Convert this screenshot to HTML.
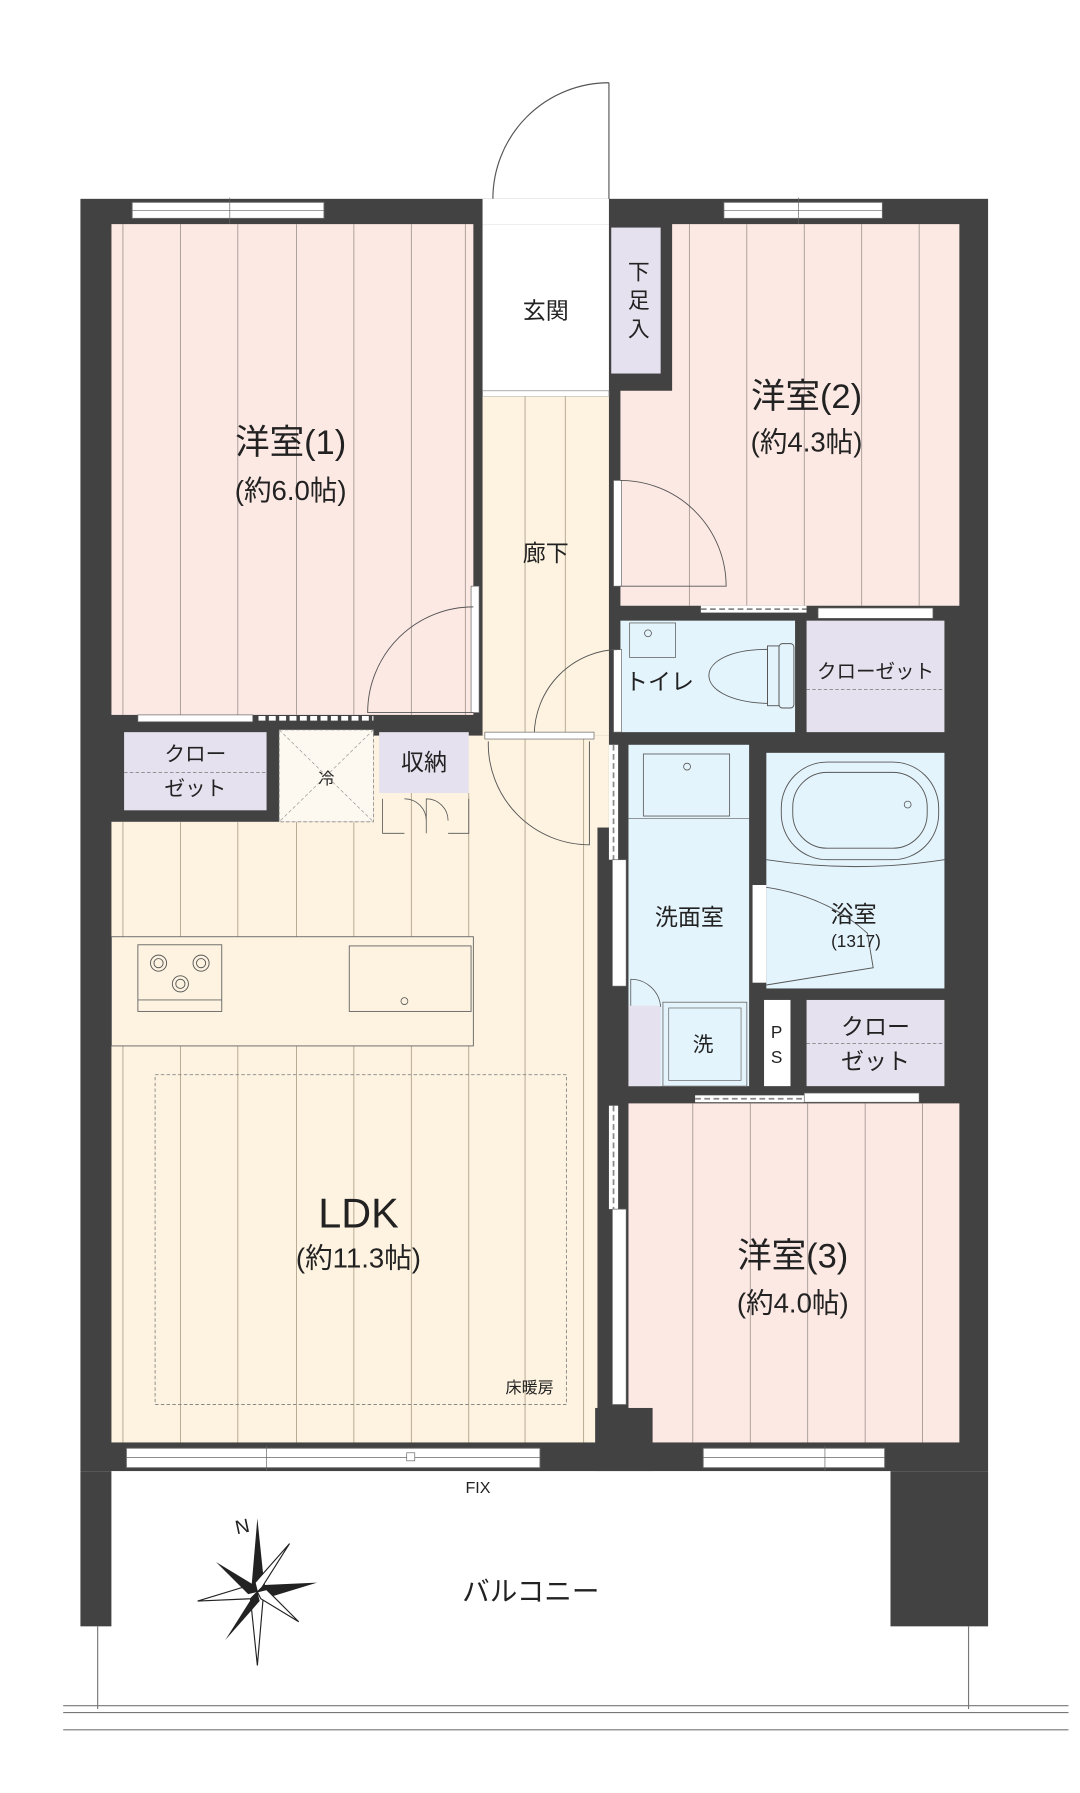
<!DOCTYPE html>
<html><head><meta charset="utf-8"><style>
html,body{margin:0;padding:0;background:#fff;width:1080px;height:1793px;overflow:hidden}
svg{display:block}
text{font-family:"Liberation Sans","Noto Sans CJK JP",sans-serif;fill:#222}
</style></head><body>
<svg width="1080" height="1793" viewBox="0 0 940 1560" preserveAspectRatio="none" xmlns="http://www.w3.org/2000/svg">
<rect width="940" height="1560" fill="#fff"/>
<!-- entry door -->
<line x1="530" y1="72" x2="530" y2="175" stroke="#555" stroke-width="1"/>
<path d="M530,72 A101,101 0 0 0 429,173" fill="none" stroke="#555" stroke-width="1"/>
<!-- walls -->
<rect x="70" y="173" width="790" height="1107" fill="#424242"/>
<rect x="70" y="1280" width="27" height="135" fill="#424242"/>
<rect x="775" y="1280" width="85" height="135" fill="#424242"/>
<rect x="420" y="173" width="110" height="22" fill="#fff"/>
<!-- windows top -->
<rect x="115" y="176" width="167" height="14" fill="#fff" stroke="#666" stroke-width="0.8"/>
<line x1="115" y1="183" x2="282" y2="183" stroke="#666" stroke-width="0.6"/>
<line x1="200" y1="172" x2="200" y2="195" stroke="#666" stroke-width="0.6"/>
<rect x="630" y="176" width="138" height="14" fill="#fff" stroke="#666" stroke-width="0.8"/>
<line x1="630" y1="183" x2="768" y2="183" stroke="#666" stroke-width="0.6"/>
<line x1="695" y1="172" x2="695" y2="195" stroke="#666" stroke-width="0.6"/>
<!-- Room1 -->
<rect x="97" y="195" width="315" height="427" fill="#fde9e4"/>
<g stroke="#9a8f8c" stroke-width="0.7">
<line x1="107" y1="195" x2="107" y2="622"/><line x1="157" y1="195" x2="157" y2="622"/><line x1="207" y1="195" x2="207" y2="622"/><line x1="258" y1="195" x2="258" y2="622"/><line x1="308" y1="195" x2="308" y2="622"/><line x1="358" y1="195" x2="358" y2="622"/><line x1="405" y1="195" x2="405" y2="622"/>
</g>
<!-- genkan -->
<rect x="420" y="195" width="110" height="145" fill="#fff"/>
<rect x="420" y="340" width="110" height="5" fill="#fff" stroke="#888" stroke-width="0.6"/>
<rect x="532" y="198" width="43" height="127" fill="#e6e1ee"/>
<!-- Room2 -->
<path d="M585,195 H835 V527 H540 V340 H585 Z" fill="#fde9e4"/>
<g stroke="#9a8f8c" stroke-width="0.7">
<line x1="600" y1="195" x2="600" y2="527"/><line x1="650" y1="195" x2="650" y2="527"/><line x1="700" y1="195" x2="700" y2="527"/><line x1="750" y1="195" x2="750" y2="527"/><line x1="800" y1="195" x2="800" y2="527"/>
</g>
<!-- corridor -->
<rect x="420" y="345" width="110" height="295" fill="#fdf3e0"/>
<g stroke="#a89a80" stroke-width="0.7"><line x1="457" y1="345" x2="457" y2="1255"/><line x1="492" y1="345" x2="492" y2="640"/></g>
<!-- LDK -->
<rect x="97" y="715" width="423" height="540" fill="#fdf3e0"/>
<rect x="325" y="640" width="205" height="80" fill="#fdf3e0"/>
<g stroke="#a89a80" stroke-width="0.7">
<line x1="107" y1="715" x2="107" y2="1255"/><line x1="157" y1="715" x2="157" y2="1255"/><line x1="207" y1="715" x2="207" y2="1255"/><line x1="258" y1="715" x2="258" y2="1255"/><line x1="308" y1="715" x2="308" y2="1255"/><line x1="358" y1="690" x2="358" y2="1255"/><line x1="408" y1="690" x2="408" y2="1255"/><line x1="457" y1="640" x2="457" y2="1255"/><line x1="508" y1="640" x2="508" y2="1255"/>
</g>
<!-- closets left -->
<rect x="108" y="637" width="124" height="68" fill="#e6e1ee"/>
<line x1="108" y1="672" x2="232" y2="672" stroke="#777" stroke-width="0.7" stroke-dasharray="3,2"/>
<rect x="243" y="635" width="82" height="80" fill="#fdf8f0" stroke="#888" stroke-width="0.7" stroke-dasharray="3,2"/>
<line x1="243" y1="635" x2="325" y2="715" stroke="#999" stroke-width="0.6" stroke-dasharray="3,2"/>
<line x1="325" y1="635" x2="243" y2="715" stroke="#999" stroke-width="0.6" stroke-dasharray="3,2"/>
<rect x="330" y="637" width="78" height="53" fill="#e6e1ee"/>
<rect x="120" y="622" width="100" height="6" fill="#fff" stroke="#666" stroke-width="0.6"/>
<line x1="225" y1="625" x2="325" y2="625" stroke="#fff" stroke-width="4" stroke-dasharray="6,3"/>
<!-- storage doors -->
<path d="M333,695 V725 H352 M352,695 A19,19 0 0 1 371,714 M371,695 V725 M371,695 A19,19 0 0 1 390,714 M408,695 V725 H390" fill="none" stroke="#555" stroke-width="0.7"/>
<!-- kitchen -->
<rect x="97" y="815" width="315" height="95" fill="#fdf3e0" stroke="#666" stroke-width="0.8"/>
<rect x="120" y="822" width="73" height="58" fill="#fdf3e0" stroke="#666" stroke-width="0.8"/>
<line x1="120" y1="870" x2="193" y2="870" stroke="#666" stroke-width="0.7"/>
<g fill="none" stroke="#555" stroke-width="0.8"><circle cx="138" cy="838" r="7"/><circle cx="138" cy="838" r="4"/><circle cx="175" cy="838" r="7"/><circle cx="175" cy="838" r="4"/><circle cx="157" cy="856" r="7"/><circle cx="157" cy="856" r="4"/></g>
<rect x="304" y="823" width="106" height="57" fill="#fdf3e0" stroke="#666" stroke-width="0.8"/>
<circle cx="352" cy="871" r="3" fill="none" stroke="#555" stroke-width="0.7"/>
<rect x="135" y="935" width="358" height="287" fill="none" stroke="#888" stroke-width="0.8" stroke-dasharray="3,2"/>
<!-- toilet -->
<rect x="540" y="540" width="152" height="97" fill="#e4f4fc"/>
<rect x="548" y="542" width="40" height="30" fill="#e4f4fc" stroke="#666" stroke-width="0.7"/>
<circle cx="564" cy="551" r="3" fill="none" stroke="#555" stroke-width="0.7"/>
<path d="M668,565 C600,565 600,610 668,612 Z" fill="#e4f4fc" stroke="#555" stroke-width="0.8"/>
<rect x="668" y="562" width="10" height="52" fill="none" stroke="#555" stroke-width="0.8"/>
<rect x="678" y="560" width="13" height="56" rx="3" fill="none" stroke="#555" stroke-width="0.8"/>
<rect x="702" y="540" width="120" height="97" fill="#e6e1ee"/>
<line x1="702" y1="600" x2="822" y2="600" stroke="#777" stroke-width="0.7" stroke-dasharray="3,2"/>
<rect x="610" y="527" width="92" height="6" fill="#fff"/>
<line x1="610" y1="530" x2="702" y2="530" stroke="#888" stroke-width="1.5" stroke-dasharray="5,3"/>
<rect x="712" y="529" width="100" height="9" fill="#fff" stroke="#666" stroke-width="0.6"/>
<!-- wash -->
<rect x="547" y="648" width="105" height="297" fill="#e4f4fc"/>
<line x1="547" y1="712" x2="652" y2="712" stroke="#777" stroke-width="0.7"/>
<rect x="560" y="656" width="75" height="54" fill="#e4f4fc" stroke="#666" stroke-width="0.8"/>
<circle cx="598" cy="667" r="3" fill="none" stroke="#555" stroke-width="0.7"/>
<rect x="547" y="875" width="28" height="70" fill="#e6e1ee"/>
<path d="M549,875 V852 A26,26 0 0 1 575,876" fill="none" stroke="#555" stroke-width="0.7"/>
<rect x="577" y="872" width="73" height="73" fill="#e4f4fc" stroke="#777" stroke-width="0.8"/>
<rect x="582" y="877" width="63" height="63" fill="none" stroke="#777" stroke-width="0.7"/>
<!-- bath -->
<rect x="667" y="655" width="155" height="205" fill="#e4f4fc"/>
<rect x="680" y="663" width="137" height="85" rx="40" fill="none" stroke="#555" stroke-width="0.8"/>
<rect x="690" y="672" width="117" height="66" rx="30" fill="none" stroke="#555" stroke-width="0.8"/>
<circle cx="790" cy="700" r="3" fill="none" stroke="#555" stroke-width="0.7"/>
<path d="M667,748 Q745,760 822,748" fill="none" stroke="#555" stroke-width="0.8"/>
<rect x="655" y="770" width="12" height="85" fill="#fff"/>
<path d="M667,772 Q720,780 755,812 L760,842 L667,857" fill="none" stroke="#555" stroke-width="0.8"/>
<rect x="665" y="870" width="23" height="75" fill="#fff"/>
<rect x="702" y="870" width="120" height="75" fill="#e6e1ee"/>
<line x1="702" y1="908" x2="822" y2="908" stroke="#777" stroke-width="0.7" stroke-dasharray="3,2"/>
<!-- Room3 -->
<rect x="547" y="960" width="288" height="295" fill="#fde9e4"/>
<g stroke="#9a8f8c" stroke-width="0.7"><line x1="603" y1="960" x2="603" y2="1255"/><line x1="653" y1="960" x2="653" y2="1255"/><line x1="703" y1="960" x2="703" y2="1255"/><line x1="753" y1="960" x2="753" y2="1255"/><line x1="803" y1="960" x2="803" y2="1255"/></g>
<rect x="518" y="1225" width="50" height="55" fill="#424242"/>
<rect x="605" y="953" width="95" height="6" fill="#fff"/>
<line x1="605" y1="956" x2="700" y2="956" stroke="#888" stroke-width="1.5" stroke-dasharray="5,3"/>
<rect x="700" y="951" width="100" height="8" fill="#fff" stroke="#666" stroke-width="0.6"/>
<!-- sliding door strip between LDK and rooms -->
<rect x="530" y="648" width="8" height="100" fill="#fff"/>
<line x1="534" y1="648" x2="534" y2="748" stroke="#888" stroke-width="1.5" stroke-dasharray="5,3"/>
<rect x="533" y="748" width="12" height="110" fill="#fff" stroke="#666" stroke-width="0.6"/>
<rect x="530" y="962" width="8" height="90" fill="#fff"/>
<line x1="534" y1="962" x2="534" y2="1052" stroke="#888" stroke-width="1.5" stroke-dasharray="5,3"/>
<rect x="533" y="1052" width="12" height="170" fill="#fff" stroke="#666" stroke-width="0.6"/>
<!-- doors -->
<rect x="410" y="510" width="7" height="110" fill="#fff" stroke="#666" stroke-width="0.6"/>
<path d="M412,528 A92,92 0 0 0 320,620 H412" fill="none" stroke="#555" stroke-width="0.8"/>
<rect x="534" y="418" width="7" height="92" fill="#fff" stroke="#666" stroke-width="0.6"/>
<path d="M540,418 A92,92 0 0 1 632,510 H540" fill="none" stroke="#555" stroke-width="0.8"/>
<rect x="534" y="565" width="7" height="72" fill="#fff" stroke="#666" stroke-width="0.6"/>
<path d="M540,565 A75,75 0 0 0 465,640" fill="none" stroke="#555" stroke-width="0.8"/>
<rect x="422" y="637" width="95" height="6" fill="#fff" stroke="#666" stroke-width="0.6"/>
<path d="M425,645 A88,88 0 0 0 513,735 V645" fill="none" stroke="#555" stroke-width="0.8"/>
<!-- bottom windows -->
<rect x="110" y="1260" width="360" height="17" fill="#fff" stroke="#666" stroke-width="0.8"/>
<line x1="110" y1="1268" x2="470" y2="1268" stroke="#666" stroke-width="0.6"/>
<line x1="232" y1="1258" x2="232" y2="1282" stroke="#666" stroke-width="0.6"/>
<rect x="354" y="1264" width="7" height="7" fill="#fff" stroke="#666" stroke-width="0.6"/>
<rect x="612" y="1260" width="158" height="17" fill="#fff" stroke="#666" stroke-width="0.8"/>
<line x1="612" y1="1268" x2="770" y2="1268" stroke="#666" stroke-width="0.6"/>
<line x1="718" y1="1258" x2="718" y2="1282" stroke="#666" stroke-width="0.6"/>
<!-- balcony -->
<rect x="97" y="1280" width="678" height="140" fill="#fff"/>
<line x1="85" y1="1415" x2="85" y2="1487" stroke="#777" stroke-width="1"/>
<line x1="843" y1="1415" x2="843" y2="1487" stroke="#777" stroke-width="1"/>
<g stroke="#777" stroke-width="1"><line x1="55" y1="1484" x2="930" y2="1484"/><line x1="55" y1="1490" x2="930" y2="1490"/><line x1="55" y1="1505" x2="930" y2="1505"/></g>
<!-- compass -->
<g transform="translate(224,1385)">
<polygon points="0,-64 6,-6 0,0 -6,6" fill="#222"/>
<polygon points="0,64 -6,6 0,0 6,-6" fill="#fff" stroke="#222" stroke-width="1"/>
<polygon points="-52,8 -6,-6 0,0 -6,6" fill="#fff" stroke="#222" stroke-width="1"/>
<polygon points="52,-8 6,6 0,0 6,-6" fill="#222"/>
<polygon points="-36,-26 -3,-6 0,0 -8,2" fill="#222"/>
<polygon points="36,26 3,6 0,0 8,-2" fill="#fff" stroke="#222" stroke-width="1"/>
<polygon points="28,-42 4,-4 0,0 -2,-8" fill="#fff" stroke="#222" stroke-width="1"/>
<polygon points="-28,42 -4,4 0,0 2,8" fill="#222"/>
<text x="-18" y="-50" font-size="17" font-family="Liberation Serif,serif" transform="rotate(-12 -18 -50)">N</text>
</g>
<!-- labels -->
<g text-anchor="middle">
<text x="253" y="395" font-size="30">洋室(1)</text>
<text x="253" y="435" font-size="24">(約6.0帖)</text>
<text x="475" y="277" font-size="20">玄関</text>
<text x="556" y="243" font-size="19">下</text><text x="556" y="268" font-size="19">足</text><text x="556" y="293" font-size="19">入</text>
<text x="702" y="355" font-size="30">洋室(2)</text>
<text x="702" y="393" font-size="24">(約4.3帖)</text>
<text x="475" y="488" font-size="20">廊下</text>
<text x="574" y="600" font-size="20">トイレ</text>
<text x="762" y="590" font-size="17">クローゼット</text>
<text x="170" y="662" font-size="18">クロー</text><text x="170" y="692" font-size="18">ゼット</text>
<text x="284" y="682" font-size="14">冷</text>
<text x="369" y="670" font-size="20">収納</text>
<text x="600" y="805" font-size="20">洗面室</text>
<text x="743" y="802" font-size="20">浴室</text>
<text x="745" y="824" font-size="15">(1317)</text>
<text x="612" y="915" font-size="18">洗</text>
<text x="676" y="903" font-size="15">P</text><text x="676" y="925" font-size="15">S</text>
<text x="762" y="900" font-size="20">クロー</text><text x="762" y="930" font-size="20">ゼット</text>
<text x="312" y="1068" font-size="36">LDK</text>
<text x="312" y="1103" font-size="24">(約11.3帖)</text>
<text x="461" y="1212" font-size="14">床暖房</text>
<text x="690" y="1103" font-size="30">洋室(3)</text>
<text x="690" y="1142" font-size="24">(約4.0帖)</text>
<text x="416" y="1299" font-size="14">FIX</text>
<text x="462" y="1393" font-size="24">バルコニー</text>
</g>
</svg>
</body></html>
